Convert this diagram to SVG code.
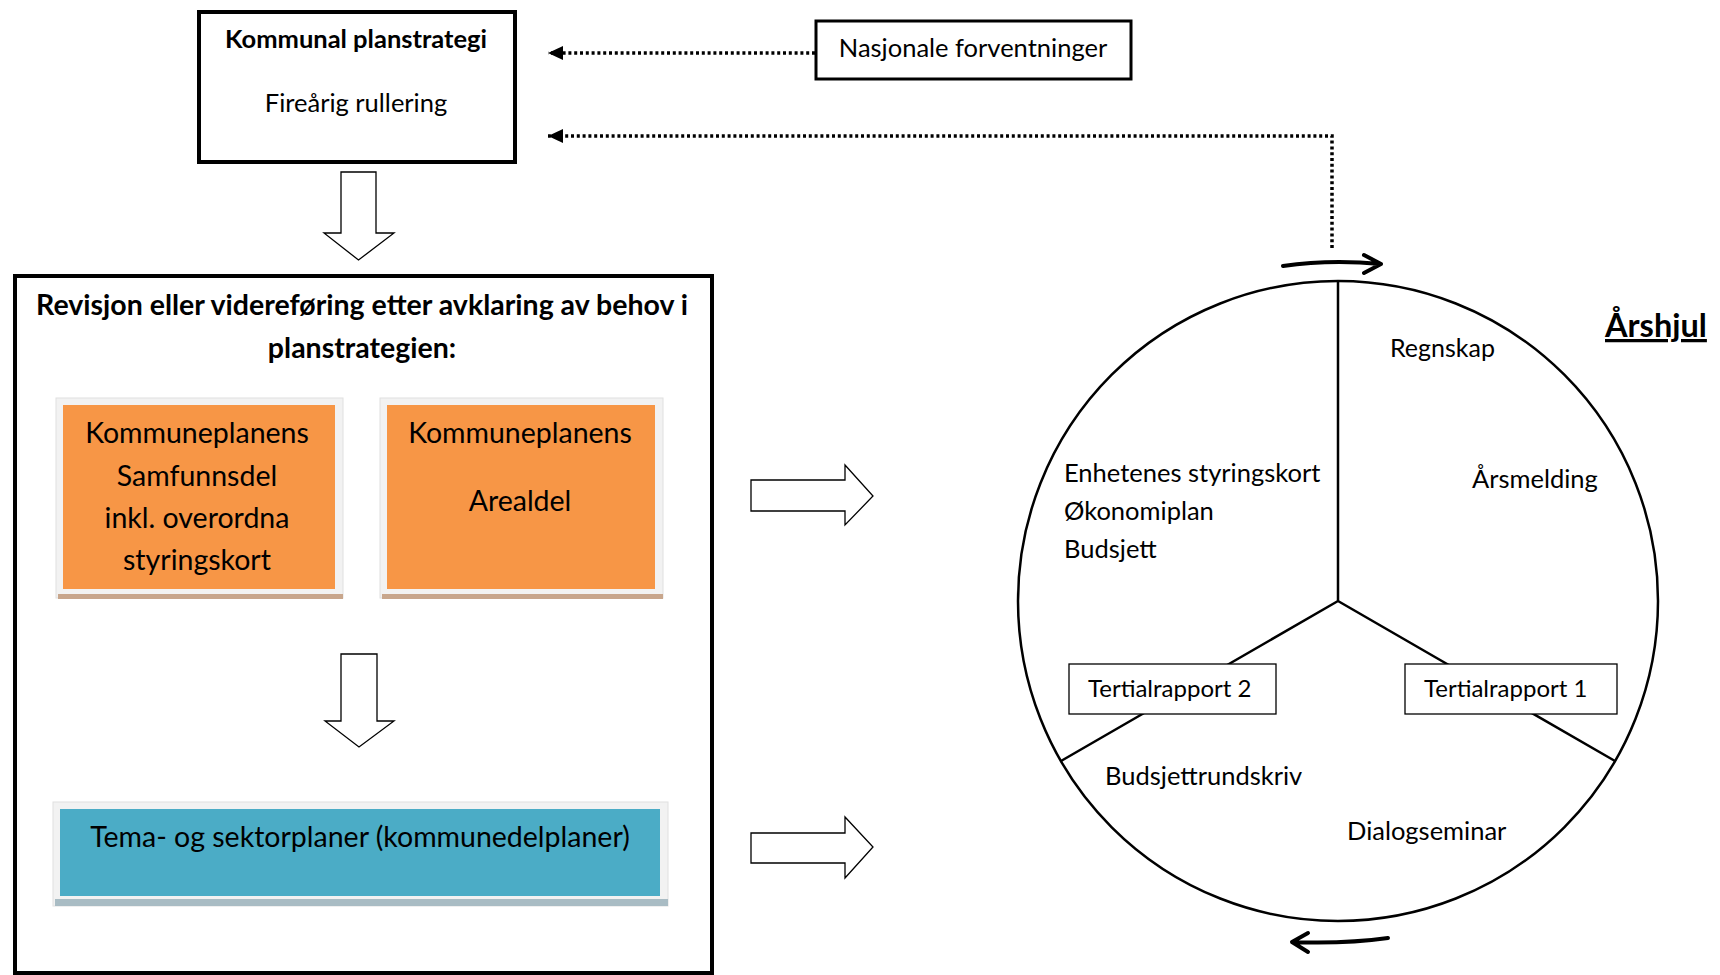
<svg xmlns="http://www.w3.org/2000/svg" width="1720" height="975" viewBox="0 0 1720 975">
<style>
text{font-family:Lato,"Liberation Sans",sans-serif;fill:#000}
.b{font-weight:bold}
.c{text-anchor:middle}
.t{font-size:25.5px}
.o{font-size:28.5px}
.box{fill:#fff;stroke:#000}
.frame{fill:#f2f2f2;stroke:#e0e0e0;stroke-width:1}
.hollow{fill:#fff;stroke:#000;stroke-width:1.3}
.dot{fill:none;stroke:#000;stroke-width:3.5;stroke-dasharray:3 2.8}
.ln{fill:none;stroke:#000;stroke-width:2.5}
.cur{fill:none;stroke:#000;stroke-width:4;stroke-linecap:round;stroke-linejoin:round}
</style>
<defs>
<marker id="tri" viewBox="0 0 15 14" refX="15" refY="7" markerWidth="15" markerHeight="14" orient="auto" markerUnits="userSpaceOnUse">
<path d="M0,0 L15,7 L0,14 z" fill="#000"/>
</marker>
</defs>

<g id="kommunal-planstrategi">
<rect class="box" x="199" y="12" width="316" height="150" stroke-width="4"/>
<text class="b c" x="356" y="48" font-size="25.5">Kommunal planstrategi</text>
<text class="c t" x="356" y="112">Fireårig rullering</text>
</g>

<g id="nasjonale-forventninger">
<rect class="box" x="816" y="21" width="315" height="58" stroke-width="3"/>
<text class="c t" x="973" y="57">Nasjonale forventninger</text>
</g>

<g id="revisjon">
<rect class="box" x="15" y="276" width="697" height="697" stroke-width="4"/>
<text class="b c" x="362" y="315" font-size="28.5">Revisjon eller videreføring etter avklaring av behov i</text>
<text class="b c" x="362" y="358" font-size="28.5">planstrategien:</text>
</g>

<g id="samfunnsdel">
<rect class="frame" x="56" y="398" width="287" height="200"/>
<rect x="58" y="594" width="285" height="5" fill="#c8a68c"/>
<rect x="63" y="405" width="272" height="184" fill="#f79646"/>
<text class="c o" x="197" y="443">Kommuneplanens</text>
<text class="c o" x="197" y="486">Samfunnsdel</text>
<text class="c o" x="197" y="528">inkl. overordna</text>
<text class="c o" x="197" y="570">styringskort</text>
</g>

<g id="arealdel">
<rect class="frame" x="380" y="398" width="283" height="200"/>
<rect x="382" y="594" width="281" height="5" fill="#c8a68c"/>
<rect x="387" y="405" width="268" height="184" fill="#f79646"/>
<text class="c o" x="520" y="443">Kommuneplanens</text>
<text class="c o" x="520" y="511">Arealdel</text>
</g>

<g id="tema-sektorplaner">
<rect class="frame" x="53" y="802" width="615" height="104"/>
<rect x="55" y="899" width="613" height="7" fill="#a9bcc4"/>
<rect x="60" y="809" width="600" height="87" fill="#4bacc6"/>
<text class="c o" x="360" y="847">Tema- og sektorplaner (kommunedelplaner)</text>
</g>

<g id="arshjul">
<circle cx="1338" cy="601" r="320" fill="none" stroke="#000" stroke-width="2.5"/>
<path class="ln" d="M1338,601 V281 M1338,601 L1061,761 M1338,601 L1615,761"/>
<path class="cur" d="M1283,266 Q1330,259 1381,264 M1364,255 L1381,264 L1364,273"/>
<path class="cur" d="M1388,938 Q1345,944 1292,942 M1308,933 L1292,942 L1308,952"/>
<text class="b" x="1605" y="337" font-size="32.5" text-decoration="underline">Årshjul</text>
<text x="1390" y="357" font-size="25">Regnskap</text>
<text class="t" x="1472" y="488">Årsmelding</text>
<text class="t" x="1064" y="482">Enhetenes styringskort</text>
<text class="t" x="1064" y="520">Økonomiplan</text>
<text class="t" x="1064" y="558">Budsjett</text>
<text class="t" x="1105" y="785">Budsjettrundskriv</text>
<text class="t" x="1347" y="840">Dialogseminar</text>
</g>

<g id="tertialrapport-2">
<rect class="box" x="1069" y="664" width="207" height="50" stroke-width="1.3"/>
<text x="1088" y="697" font-size="24">Tertialrapport 2</text>
</g>

<g id="tertialrapport-1">
<rect class="box" x="1405" y="664" width="212" height="50" stroke-width="1.3"/>
<text x="1424" y="697" font-size="24">Tertialrapport 1</text>
</g>

<g id="connectors">
<path class="dot" d="M815,53 H548" marker-end="url(#tri)"/>
<path class="dot" d="M1332,248 V136 H548" marker-end="url(#tri)"/>
<path class="hollow" d="M341,172 H376 V233 H394 L358.5,260 L324,233 H341 Z"/>
<path class="hollow" d="M341,654 H377 V721 H394 L359,747 L325,721 H341 Z"/>
<path class="hollow" d="M751,480 H845 V465 L873,496 L845,525 V511 H751 Z"/>
<path class="hollow" d="M751,833 H845 V817 L873,847 L845,878 V863 H751 Z"/>
</g>
</svg>
